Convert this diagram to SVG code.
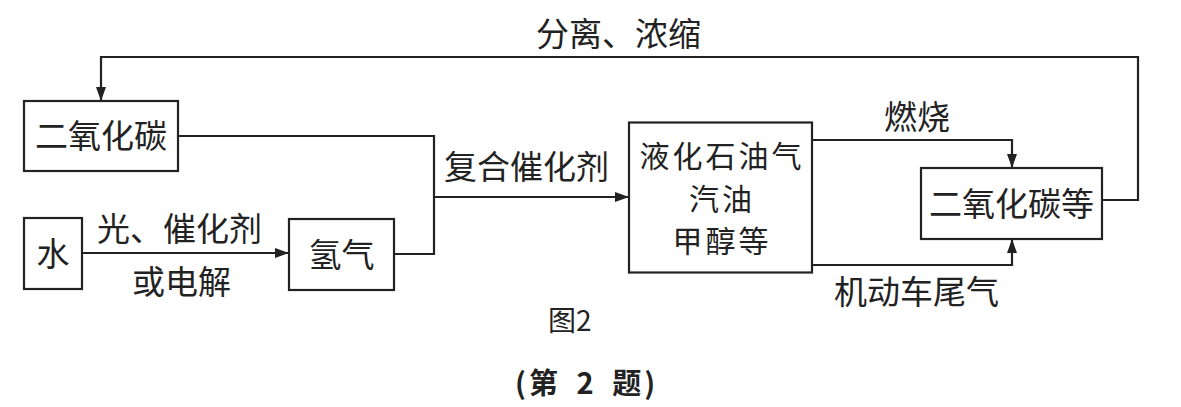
<svg xmlns="http://www.w3.org/2000/svg" width="1181" height="407" viewBox="0 0 1181 407">
<style>
.box{fill:none;stroke:#222;stroke-width:2.2}
.ln{fill:none;stroke:#222;stroke-width:2.2}
text{font-family:"Noto Sans CJK SC","Noto Sans",sans-serif;font-size:33px;fill:#222}
.c{text-anchor:middle}
.f{font-size:30px;letter-spacing:3px}
</style>
<defs>
<marker id="ah" markerWidth="14" markerHeight="10" refX="13" refY="5" orient="auto" markerUnits="userSpaceOnUse">
<path d="M0,0 L14,5 L0,10 Z" fill="#222"/>
</marker>
</defs>
<rect width="1181" height="407" fill="#fff"/>
<g id="connectors">
<polyline class="ln" points="1102,200 1138,200 1138,57 101,57 101,100" marker-end="url(#ah)"/>
<polyline class="ln" points="178,136 434,136 434,254 395,254"/>
<line class="ln" x1="434" y1="197" x2="628" y2="197" marker-end="url(#ah)"/>
<line class="ln" x1="82" y1="253" x2="288" y2="253" marker-end="url(#ah)"/>
<polyline class="ln" points="812,140 1012,140 1012,167" marker-end="url(#ah)"/>
<polyline class="ln" points="812,265 1012,265 1012,240" marker-end="url(#ah)"/>
<text x="536" y="46">分离、浓缩</text>
<text x="444" y="179">复合催化剂</text>
<text x="97" y="241">光、催化剂</text>
<text x="132" y="294">或电解</text>
<text x="884" y="129">燃烧</text>
<text x="834" y="304">机动车尾气</text>
</g>
<g id="node-co2">
<rect class="box" x="24" y="101" width="154" height="70"/>
<text class="c" x="101" y="148">二氧化碳</text>
</g>
<g id="node-water">
<rect class="box" x="24" y="218" width="58" height="71"/>
<text class="c" x="53" y="266">水</text>
</g>
<g id="node-h2">
<rect class="box" x="289" y="219" width="105" height="71"/>
<text class="c" x="341.5" y="267">氢气</text>
</g>
<g id="node-fuel">
<rect class="box" x="629" y="122.5" width="183" height="150"/>
<text class="c f" x="722" y="167">液化石油气</text>
<text class="c f" x="722" y="210">汽油</text>
<text class="c f" x="722" y="252">甲醇等</text>
</g>
<g id="node-co2etc">
<rect class="box" x="921" y="168" width="181" height="71"/>
<text class="c" x="1011.5" y="216">二氧化碳等</text>
</g>
<g id="caption">
<text x="548" y="331" style="font-size:28px">图2</text>
<text x="515" y="394" style="font-size:29px;font-weight:bold;word-spacing:6px;letter-spacing:3px">(第 2 题)</text>
</g>
</svg>
